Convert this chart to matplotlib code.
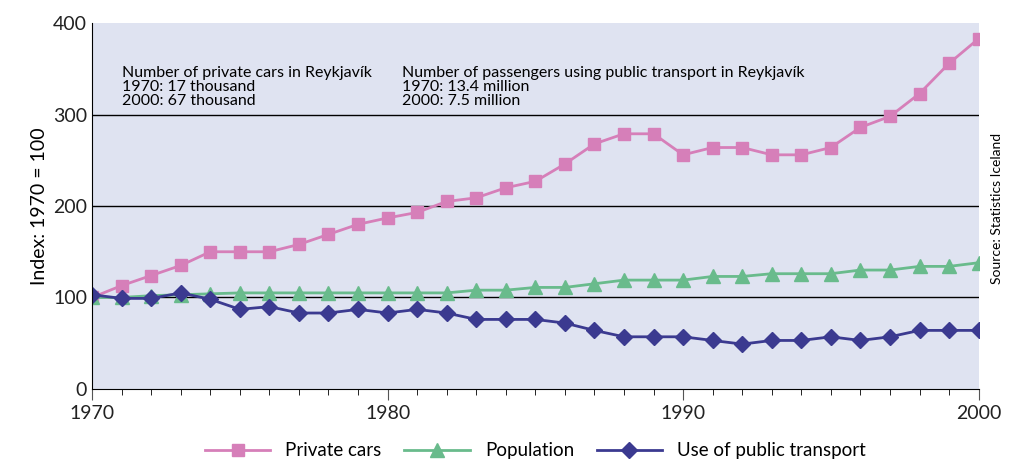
import numpy as np
import matplotlib.pyplot as plt

years = list(range(1970, 2001))
cars = [100, 113, 124, 135, 150, 150, 150, 158, 169, 180, 187, 193, 205, 209, 220, 227,
        246, 268, 279, 279, 256, 264, 264, 256, 256, 264, 286, 298, 323, 356, 383]
population = [100, 100, 102, 103, 104, 105, 105, 105, 105, 105, 105, 105, 105, 108, 108, 111,
              111, 115, 119, 119, 119, 123, 123, 126, 126, 126, 130, 130, 134, 134, 138]
transport = [103, 99, 99, 105, 98, 87, 90, 83, 83, 87, 83, 87, 83, 76, 76, 76,
             72, 64, 57, 57, 57, 53, 49, 53, 53, 57, 53, 57, 64, 64, 64]

plt.rcParams['font.family'] = ['Lato', 'DejaVu Sans']
fig = plt.figure(figsize=(10.12, 4.63), dpi=100)
ax = fig.add_axes([0.091, 0.16, 0.876, 0.79])
ax.set_facecolor('#dfe3f1')

ax.plot(years, cars, color='#d67fb9', marker='s', markersize=9, lw=2, label='Private cars')
ax.plot(years, population, color='#69bb8c', marker='^', markersize=10, lw=2, label='Population')
ax.plot(years, transport, color='#3b3a90', marker='D', markersize=8, lw=2, label='Use of public transport')

ax.set_xlim(1970, 2000)
ax.set_ylim(0, 400)
ax.set_xticks([1970, 1980, 1990, 2000])
ax.set_xticks(years, minor=True)
ax.set_yticks([0, 100, 200, 300, 400])
for y in [100, 200, 300]:
    ax.axhline(y, color='black', lw=1, zorder=0)
for s in ['top', 'right']:
    ax.spines[s].set_visible(False)
ax.tick_params(axis='both', labelsize=14, color='#555555', labelcolor='#222222')
ax.tick_params(axis='y', length=0)
ax.tick_params(axis='x', which='major', length=8)
ax.tick_params(axis='x', which='minor', length=4)
ax.set_ylabel('Index: 1970 = 100', fontsize=14)

ax.text(1971, 353, 'Number of private cars in Reykjavík\n1970: 17 thousand\n2000: 67 thousand',
        fontsize=11.5, va='top', linespacing=1.0)
ax.text(1980.5, 353, 'Number of passengers using public transport in Reykjavík\n1970: 13.4 million\n2000: 7.5 million',
        fontsize=11.5, va='top', linespacing=1.0)
fig.text(0.985, 0.55, 'Source: Statistics Iceland', rotation=90, fontsize=10, ha='center', va='center')

ax.legend(loc='upper center', bbox_to_anchor=(0.5, -0.1), ncol=3, frameon=False, fontsize=13.5,
          handlelength=3.5, columnspacing=1.2)
fig.savefig('out.png', dpi=100)
